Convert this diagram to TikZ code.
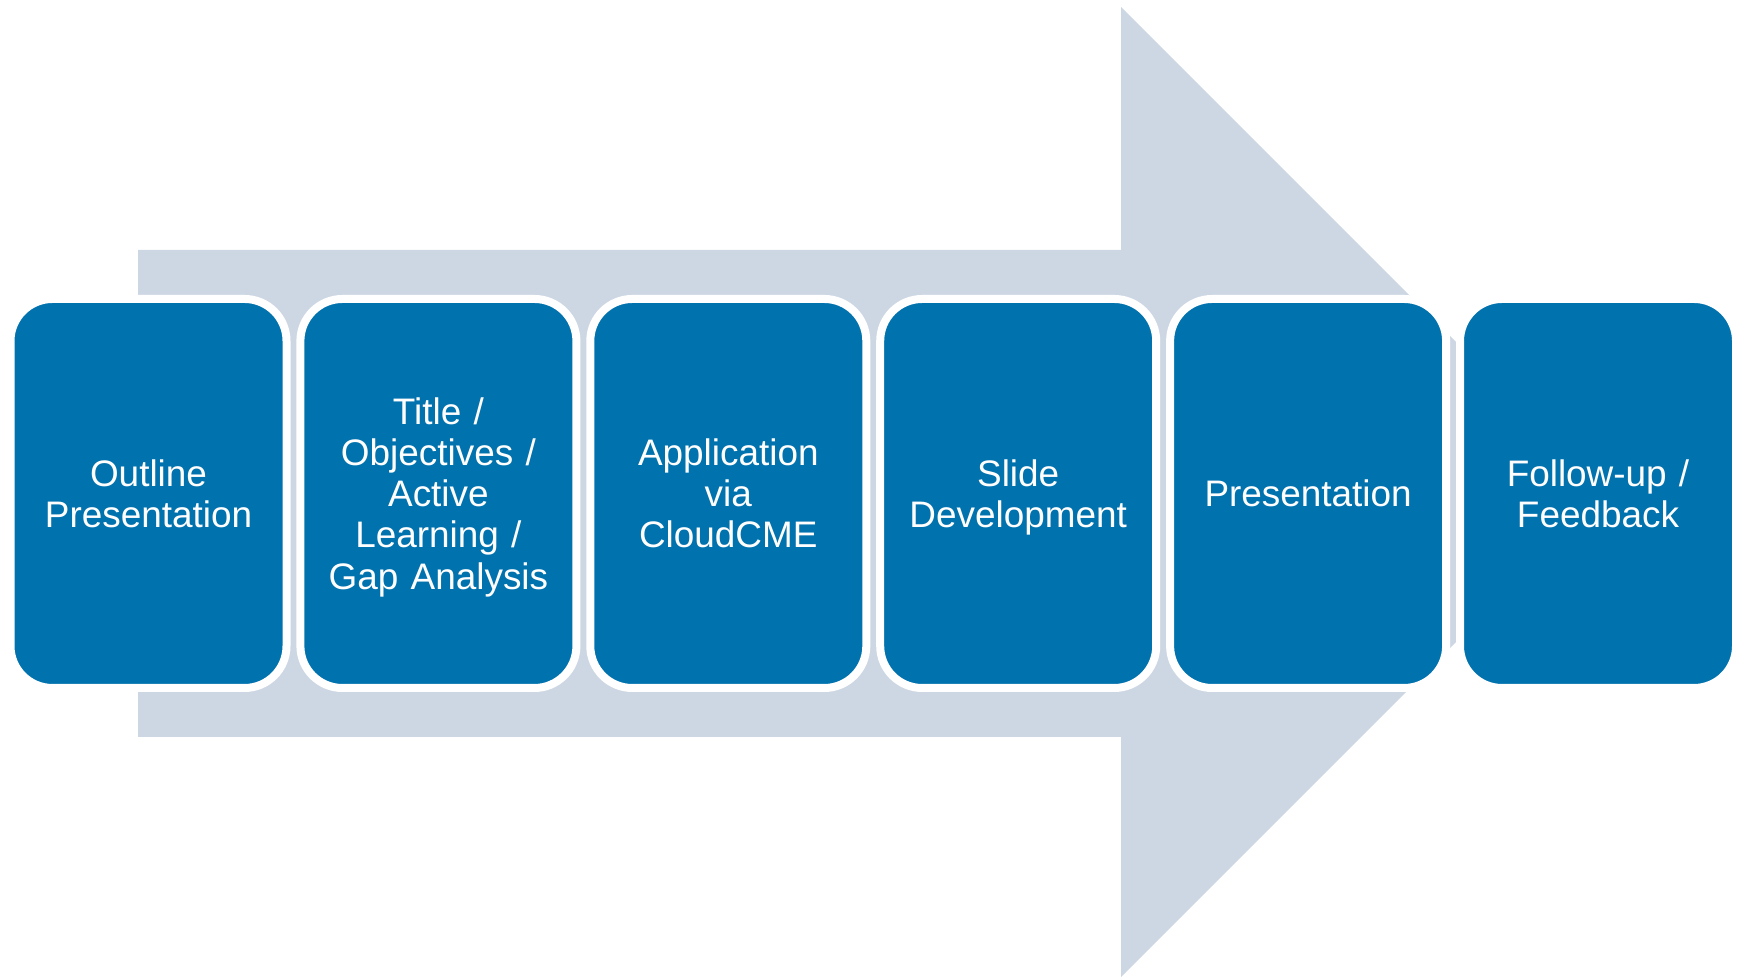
\documentclass[tikz,border=0pt]{standalone}
\usepackage{fontspec}
\setmainfont{Liberation Sans}
\usetikzlibrary{positioning}

\definecolor{stageblue}{RGB}{0,114,174}
\definecolor{arrowgrey}{RGB}{205,215,228}

\tikzset{
	stage/.style = {draw = white, line width = 0.08cm, fill = stageblue,
		rounded corners = 0.42cm, minimum width = 2.76cm, minimum height = 3.89cm,
		inner sep = 0pt, outer sep = 0pt,
		text width = 2.6cm, align = center, text = white,
		font = \fontsize{10.5}{11.7}\selectfont},
	flow/.style = {fill = arrowgrey}
}

\begin{document}
\begin{tikzpicture}
		\useasboundingbox (0,0) rectangle (17.41,9.77);

		% big background arrow
		\fill[flow] (1.38,2.40) -- (1.38,7.27) -- (11.21,7.27) -- (11.21,9.70)
			-- (16.06,4.85) -- (11.21,0) -- (11.21,2.40) -- cycle;

		\node[stage] (outline) at (1.485,4.835) {Outline\\Presentation};
		\node[stage, right = 0.139cm of outline] (objectives)
			{Title /\\Objectives /\\Active\\Learning /\\\smash{Gap Analysis}};
		\node[stage, right = 0.139cm of objectives] (application)
			{Application\\via\\CloudCME};
		\node[stage, right = 0.139cm of application] (slides)
			{Slide\\\smash{Development}};
		\node[stage, right = 0.139cm of slides] (presentation)
			{Presentation};
		\node[stage, right = 0.139cm of presentation] (feedback)
			{Follow-up /\\Feedback};

	\end{tikzpicture}
\end{document}
